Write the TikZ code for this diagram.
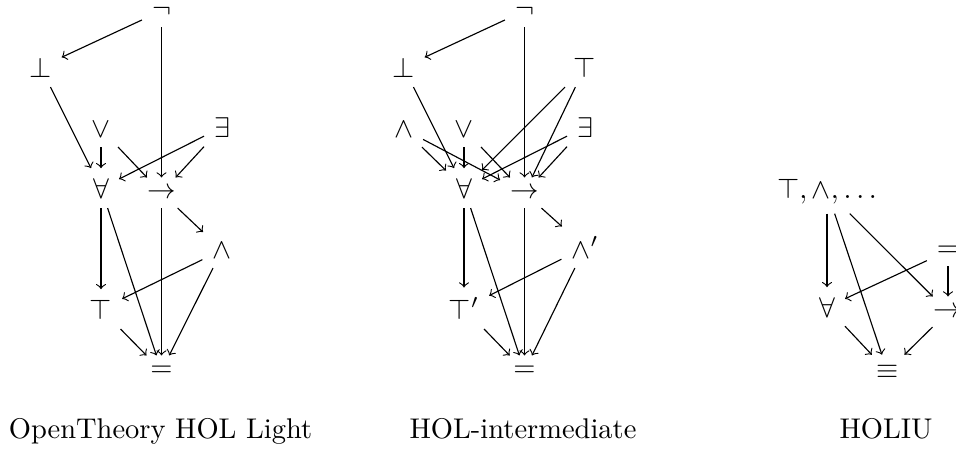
\documentclass[tikz,border=0pt]{standalone}
\begin{document}
\begin{tikzpicture}[x=0.35088pt,y=-0.35088pt,
  sym/.style={anchor=base, inner sep=3.333pt},
  arr/.style={->, line width=0.4pt},
  lab/.style={anchor=base, inner sep=0pt}]
\useasboundingbox (0,0) rectangle (956,448);
% ---------- left: OpenTheory HOL Light ----------
\node[sym] (Ln)   at (161.5,17)  {$\neg$};
\node[sym] (Lbot) at (40.5,77)   {$\bot$};
\node[sym] (Lor)  at (101,137)   {$\vee$};
\node[sym] (Lex)  at (222,137)   {$\exists$};
\node[sym] (Lall) at (101,198)   {$\forall$};
\node[sym] (Limp) at (161.5,198) {$\to$};
\node[sym] (Land) at (222,258)   {$\wedge$};
\node[sym] (Ltop) at (101,319)   {$\top$};
\node[sym] (Leq)  at (161.5,376) {$=$};
\draw[arr] (Ln) -- (Lbot);
\draw[arr] (Ln) -- (Limp);
\draw[arr] (Lbot) -- (Lall);
\draw[arr] (Lor) -- (Lall);
\draw[arr] (Lor) -- (Limp);
\draw[arr] (Lex) -- (Lall);
\draw[arr] (Lex) -- (Limp);
\draw[arr] (Lall) -- (Ltop);
\draw[arr] (Lall) -- (Leq);
\draw[arr] (Limp) -- (Land);
\draw[arr] (Limp) -- (Leq);
\draw[arr] (Land) -- (Ltop);
\draw[arr] (Land) -- (Leq);
\draw[arr] (Ltop) -- (Leq);
\node[lab] (Llab) at (160.5,438) {OpenTheory HOL Light};
% ---------- middle: HOL-intermediate ----------
\node[sym] (Mn)   at (524.5,17)  {$\neg$};
\node[sym] (Mbot) at (403.5,77)  {$\bot$};
\node[sym] (Mtop) at (585,77)    {$\top$};
\node[sym] (Mand) at (403.5,137) {$\wedge$};
\node[sym] (Mor)  at (464,137)   {$\vee$};
\node[sym] (Mex)  at (585,137)   {$\exists$};
\node[sym] (Mall) at (464,198)   {$\forall$};
\node[sym] (Mimp) at (524.5,198) {$\to$};
\node[sym] (Mandp) at (585,258)  {$\wedge'$};
\node[sym] (Mtopp) at (464,319)  {$\top'$};
\node[sym] (Meq)  at (524.5,376) {$=$};
\draw[arr] (Mn) -- (Mbot);
\draw[arr] (Mn) -- (Mimp);
\draw[arr] (Mbot) -- (Mall);
\draw[arr] (Mtop) -- (Mall);
\draw[arr] (Mtop) -- (Mimp);
\draw[arr] (Mand) -- (Mall);
\draw[arr] (Mand) -- (Mimp);
\draw[arr] (Mor) -- (Mall);
\draw[arr] (Mor) -- (Mimp);
\draw[arr] (Mex) -- (Mall);
\draw[arr] (Mex) -- (Mimp);
\draw[arr] (Mall) -- (Mtopp);
\draw[arr] (Mall) -- (Meq);
\draw[arr] (Mimp) -- (Mandp);
\draw[arr] (Mimp) -- (Meq);
\draw[arr] (Mandp) -- (Mtopp);
\draw[arr] (Mandp) -- (Meq);
\draw[arr] (Mtopp) -- (Meq);
\node[lab] (Mlab) at (523,438) {HOL-intermediate};
% ---------- right: HOLIU ----------
\node[sym] (Rtop) at (827,198) {$\top,\wedge,\ldots$};
\node[sym] (Req)  at (948,256) {$=$};
\node[sym] (Rall) at (827,317) {$\forall$};
\node[sym] (Rimp) at (948,317) {$\to$};
\node[sym] (Requiv) at (887.5,378) {$\equiv$};
\draw[arr] (Rtop) -- (Rall);
\draw[arr] (Rtop) -- (Requiv);
\draw[arr] (Rtop) -- (Rimp);
\draw[arr] (Req) -- (Rall);
\draw[arr] (Req) -- (Rimp);
\draw[arr] (Rall) -- (Requiv);
\draw[arr] (Rimp) -- (Requiv);
\node[lab] (Rlab) at (886,438) {HOLIU};
\end{tikzpicture}
\end{document}
